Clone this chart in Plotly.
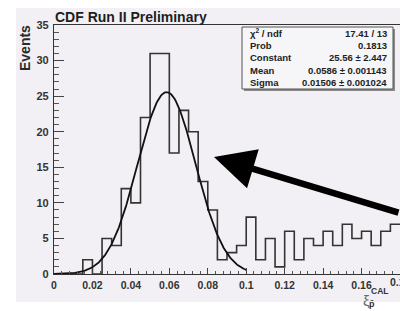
import numpy as np
import plotly.graph_objects as go

# ---------------- data ----------------
bin_edges_low = [0.000, 0.005, 0.010, 0.015, 0.020, 0.025, 0.030, 0.035, 0.040, 0.045,
                 0.050, 0.055, 0.060, 0.065, 0.070, 0.075, 0.080, 0.085, 0.090, 0.095,
                 0.100, 0.105, 0.110, 0.115, 0.120, 0.125, 0.130, 0.135, 0.140, 0.145,
                 0.150, 0.155, 0.160, 0.165, 0.170, 0.175]
bin_width = 0.005
events = [0, 0, 0, 2, 0, 5, 4, 12, 10, 22,
          31, 31, 17, 23, 20, 13, 9, 2, 3, 4,
          8, 2, 5, 1, 6, 2, 5, 4, 6, 4,
          7, 5, 6, 4, 6, 7]

# Gaussian fit parameters (from the stats box)
fit_constant = 25.56
fit_mean = 0.0586
fit_sigma = 0.01506
fit_range = [0.0, 0.1]

stats_labels = ["χ<sup>2</sup> / ndf", "Prob", "Constant", "Mean", "Sigma"]
stats_values = ["17.41 / 13", "0.1813", "25.56 ± 2.447", "0.0586 ± 0.001143", "0.01506 ± 0.001024"]

x_tickvals = [0, 0.02, 0.04, 0.06, 0.08, 0.1, 0.12, 0.14, 0.16]
x_ticktext = ["0", "0.02", "0.04", "0.06", "0.08", "0.1", "0.12", "0.14", "0.16"]
x_edge_label = "0.18"  # last tick label, cut by the right edge of the picture
y_tickvals = [0, 5, 10, 15, 20, 25, 30, 35]
y_ticktext = ["0", "5", "10", "15", "20", "25", "30", "35"]

title_text = "CDF Run II Preliminary"
y_title = "Events"

# ---------------- layout geometry ----------------
W_FIG, H_FIG = 400, 311
L, R, T, B = 54, 0, 25, 37
PW = W_FIG - L - R
PH = H_FIG - T - B


def px(x):
    return (x - L) / PW


def py(y):
    return (H_FIG - B - y) / PH


BG = "#f2f0f4"
FONT = "Liberation Sans, Arial, Helvetica, sans-serif"

# step outline of histogram
step_x = list(bin_edges_low) + [bin_edges_low[-1] + bin_width]
step_y = list(events) + [events[-1]]

fit_x = np.linspace(fit_range[0], fit_range[1], 300)
fit_y = fit_constant * np.exp(-0.5 * ((fit_x - fit_mean) / fit_sigma) ** 2)

fig = go.Figure()
fig.add_trace(go.Scatter(x=step_x, y=step_y, mode="lines", line_shape="hv",
                         line=dict(color="#333333", width=1.6), hoverinfo="skip", cliponaxis=False))
fig.add_trace(go.Scatter(x=fit_x, y=fit_y, mode="lines",
                         line=dict(color="#111111", width=1.8), hoverinfo="skip"))

shapes = [
    # canvas grey area
    dict(type="rect", xref="paper", yref="paper", x0=px(16), x1=px(402), y0=py(302), y1=py(8),
         fillcolor=BG, line=dict(width=0), layer="below"),
    # stats box shadow
    dict(type="rect", xref="paper", yref="paper", x0=px(244), x1=px(395), y0=py(91), y1=py(29),
         fillcolor="#8a8a8a", line=dict(width=0), layer="above"),
    # stats box
    dict(type="rect", xref="paper", yref="paper", x0=px(242), x1=px(393), y0=py(89), y1=py(27),
         fillcolor="#f6f5f7", line=dict(color="#555555", width=1), layer="above"),
]

annotations = []
annotations.append(dict(text="<b>" + title_text + "</b>", xref="paper", yref="paper",
                        x=px(53), y=py(17), xanchor="left", yanchor="middle", showarrow=False,
                        font=dict(family=FONT, size=14, color="#1e1e1e")))
annotations.append(dict(text="<b>" + y_title + "</b>", xref="paper", yref="paper",
                        x=px(25), y=py(48), xanchor="center", yanchor="middle", textangle=-90,
                        showarrow=False, font=dict(family=FONT, size=14, color="#2a2a2a")))

line_y = [33.5, 45, 57.5, 70, 82]
for lab, val, yy in zip(stats_labels, stats_values, line_y):
    annotations.append(dict(text="<b>" + lab + "</b>", xref="paper", yref="paper",
                            x=px(248), y=py(yy), xanchor="left", yanchor="middle", showarrow=False,
                            font=dict(family=FONT, size=9.5, color="#222222")))
    annotations.append(dict(text="<b>" + val + "</b>", xref="paper", yref="paper",
                            x=px(389), y=py(yy), xanchor="right", yanchor="middle", showarrow=False,
                            font=dict(family=FONT, size=9.5, color="#222222")))

# last x tick label, partly beyond the right edge as in the reference
annotations.append(dict(text="<b>" + x_edge_label + "</b>", xref="x", yref="paper",
                        x=0.18, y=py(282), xanchor="center", yanchor="middle", showarrow=False,
                        font=dict(family=FONT, size=10.5, color="#333333")))

# x-axis title  xi_pbar^CAL
annotations.append(dict(text="ξ", xref="paper", yref="paper", x=px(366), y=py(300),
                        xanchor="center", yanchor="middle", showarrow=False,
                        font=dict(family=FONT, size=15, color="#6a6a6a")))
annotations.append(dict(text="<b>CAL</b>", xref="paper", yref="paper", x=px(379), y=py(291),
                        xanchor="center", yanchor="middle", showarrow=False,
                        font=dict(family=FONT, size=8.5, color="#333333")))
annotations.append(dict(text="<b>p̄</b>", xref="paper", yref="paper", x=px(372), y=py(304),
                        xanchor="center", yanchor="middle", showarrow=False,
                        font=dict(family=FONT, size=9, color="#333333")))

# big arrow
annotations.append(dict(text="", xref="paper", yref="paper", x=px(214), y=py(157),
                        ax=192, ay=56, showarrow=True, arrowhead=2, arrowsize=1.25,
                        arrowwidth=6.5, arrowcolor="#000000", standoff=0))

fig.update_layout(
    width=W_FIG, height=H_FIG,
    margin=dict(l=L, r=R, t=T, b=B, pad=0, autoexpand=False),
    paper_bgcolor="white", plot_bgcolor=BG,
    showlegend=False,
    shapes=shapes, annotations=annotations,
    font=dict(family=FONT, color="#333333"),
)
fig.update_xaxes(range=[0, 0.18], tickvals=x_tickvals, ticktext=x_ticktext,
                 showgrid=False, zeroline=False, showline=True, mirror=True,
                 linecolor="#333333", linewidth=1.2,
                 ticks="inside", ticklen=6, tickcolor="#444444", tickwidth=1,
                 minor=dict(dtick=0.004, tick0=0, ticks="inside", ticklen=3, tickcolor="#555555"),
                 tickfont=dict(family=FONT, size=10.5, color="#333333", weight="bold"),
                 ticklabelstandoff=1, automargin=False)
fig.update_yaxes(range=[0, 35], tickvals=y_tickvals, ticktext=y_ticktext,
                 showgrid=False, zeroline=False, showline=True, mirror=True,
                 linecolor="#333333", linewidth=1.2,
                 ticks="inside", ticklen=10, tickcolor="#444444", tickwidth=1,
                 minor=dict(dtick=1, tick0=0, ticks="inside", ticklen=5, tickcolor="#555555"),
                 tickfont=dict(family=FONT, size=11, color="#333333", weight="bold"),
                 ticklabelstandoff=2, automargin=False)

fig.write_html("out.html", config={"displayModeBar": False})

# remove the default page margin so the figure sits at the window's top-left corner
with open("out.html", "r", encoding="utf-8") as f:
    html = f.read()
html = html.replace("<head>", "<head><style>html,body{margin:0;padding:0;overflow:hidden;}</style>", 1)
with open("out.html", "w", encoding="utf-8") as f:
    f.write(html)
